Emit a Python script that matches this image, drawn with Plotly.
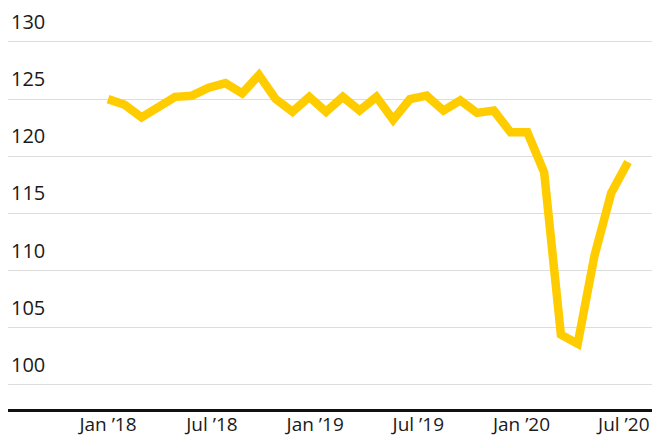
import plotly.graph_objects as go

month_labels = ["Jan 2018", "Feb 2018", "Mar 2018", "Apr 2018", "May 2018", "Jun 2018",
                "Jul 2018", "Aug 2018", "Sep 2018", "Oct 2018", "Nov 2018", "Dec 2018",
                "Jan 2019", "Feb 2019", "Mar 2019", "Apr 2019", "May 2019", "Jun 2019",
                "Jul 2019", "Aug 2019", "Sep 2019", "Oct 2019", "Nov 2019", "Dec 2019",
                "Jan 2020", "Feb 2020", "Mar 2020", "Apr 2020", "May 2020", "Jun 2020",
                "Jul 2020", "Aug 2020"]
values = [125.0, 124.5, 123.4, 124.25, 125.2, 125.3, 126.0, 126.4, 125.5, 127.1,
          125.0, 123.9, 125.2, 123.9, 125.2, 124.0, 125.2, 123.2, 125.0, 125.3,
          124.0, 124.9, 123.8, 124.0, 122.1, 122.1, 118.6, 104.4, 103.6, 111.3,
          116.8, 119.5]
x_index = list(range(len(values)))

tick_pos = [0.0, 6.2, 12.35, 18.5, 24.65, 30.75]
tick_labels = ["Jan \u201918", "Jul \u201918", "Jan \u201919", "Jul \u201919", "Jan \u201920", "Jul \u201920"]
y_ticks = [100, 105, 110, 115, 120, 125, 130]

fig = go.Figure()
fig.add_trace(go.Scatter(x=x_index, y=values, mode="lines",
                         line=dict(color="#FFCC00", width=8.5),
                         customdata=month_labels,
                         hovertemplate="%{customdata}: %{y}<extra></extra>"))

font = "Open Sans, Noto Sans, sans-serif"
fig.update_layout(
    width=657, height=439,
    margin=dict(l=8, r=5, t=20, b=30),
    paper_bgcolor="white", plot_bgcolor="white",
    showlegend=False,
    xaxis=dict(range=[-5.96, 32.43], tickvals=tick_pos, ticktext=tick_labels,
               showgrid=False, zeroline=False, showline=True, linecolor="#111111", linewidth=3,
               ticks="", ticklabelstandoff=-4,
               tickfont=dict(family=font, size=19, color="#1a1a1a"),
               automargin=False, fixedrange=True),
    yaxis=dict(range=[97.9, 131.92], tickvals=y_ticks, showticklabels=False,
               showgrid=True, gridcolor="#dddddd", gridwidth=1, zeroline=False,
               automargin=False, fixedrange=True),
)
for v in y_ticks:
    fig.add_annotation(x=0, xref="paper", y=v, yref="y", text=str(v), showarrow=False,
                       xanchor="left", yanchor="bottom", xshift=1, yshift=5,
                       font=dict(family=font, size=20, color="#1a1a1a"))

fig.write_html("out.html", config={"displayModeBar": False},
               post_script="document.body.style.margin='0px';document.body.style.overflow='hidden';")
